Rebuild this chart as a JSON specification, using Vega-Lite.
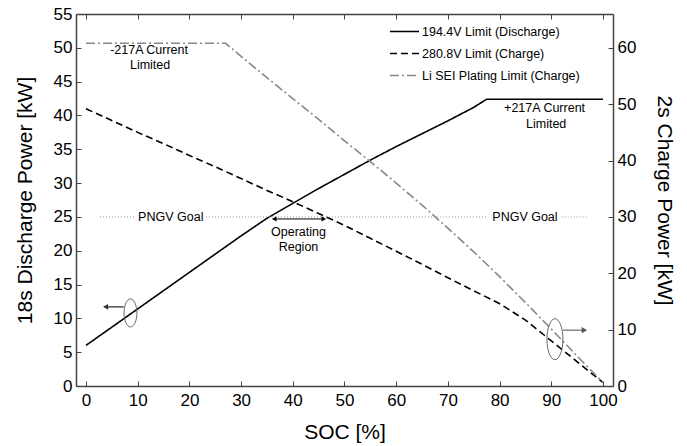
{
  "$schema": "https://vega.github.io/schema/vega-lite/v6.json",
  "width": 537,
  "height": 372,
  "autosize": {"type": "none"},
  "padding": {"left": 76, "top": 14, "right": 74, "bottom": 60},
  "config": {
    "font": "Liberation Sans",
    "view": {"stroke": null},
    "axis": {"grid": false, "domainColor": "#444", "domainWidth": 1.5, "tickColor": "#444", "tickWidth": 1, "labelColor": "#000", "titleColor": "#000", "labelFont": "Liberation Sans", "titleFont": "Liberation Sans", "titleFontWeight": "normal", "labelOverlap": false},
    "text": {"font": "Liberation Sans", "fontSize": 12.5, "baseline": "middle", "align": "center", "color": "#000"}
  },
  "datasets": {
    "discharge": [
      {"soc": 0, "power": 6.0, "series": "194.4V Limit (Discharge)"},
      {"soc": 5, "power": 8.7, "series": "194.4V Limit (Discharge)"},
      {"soc": 10, "power": 11.4, "series": "194.4V Limit (Discharge)"},
      {"soc": 15, "power": 14.1, "series": "194.4V Limit (Discharge)"},
      {"soc": 20, "power": 16.8, "series": "194.4V Limit (Discharge)"},
      {"soc": 25, "power": 19.5, "series": "194.4V Limit (Discharge)"},
      {"soc": 30, "power": 22.2, "series": "194.4V Limit (Discharge)"},
      {"soc": 35, "power": 24.8, "series": "194.4V Limit (Discharge)"},
      {"soc": 40, "power": 27.0, "series": "194.4V Limit (Discharge)"},
      {"soc": 45, "power": 29.2, "series": "194.4V Limit (Discharge)"},
      {"soc": 50, "power": 31.3, "series": "194.4V Limit (Discharge)"},
      {"soc": 55, "power": 33.4, "series": "194.4V Limit (Discharge)"},
      {"soc": 60, "power": 35.4, "series": "194.4V Limit (Discharge)"},
      {"soc": 65, "power": 37.3, "series": "194.4V Limit (Discharge)"},
      {"soc": 70, "power": 39.2, "series": "194.4V Limit (Discharge)"},
      {"soc": 75, "power": 41.2, "series": "194.4V Limit (Discharge)"},
      {"soc": 77.5, "power": 42.4, "series": "194.4V Limit (Discharge)"},
      {"soc": 100, "power": 42.4, "series": "194.4V Limit (Discharge)"}
    ],
    "charge": [
      {"soc": 0, "power": 49.2, "series": "280.8V Limit (Charge)"},
      {"soc": 5, "power": 47.1, "series": "280.8V Limit (Charge)"},
      {"soc": 10, "power": 45.0, "series": "280.8V Limit (Charge)"},
      {"soc": 15, "power": 43.0, "series": "280.8V Limit (Charge)"},
      {"soc": 20, "power": 40.9, "series": "280.8V Limit (Charge)"},
      {"soc": 25, "power": 38.9, "series": "280.8V Limit (Charge)"},
      {"soc": 30, "power": 36.8, "series": "280.8V Limit (Charge)"},
      {"soc": 35, "power": 34.7, "series": "280.8V Limit (Charge)"},
      {"soc": 40, "power": 32.7, "series": "280.8V Limit (Charge)"},
      {"soc": 45, "power": 30.6, "series": "280.8V Limit (Charge)"},
      {"soc": 50, "power": 28.5, "series": "280.8V Limit (Charge)"},
      {"soc": 55, "power": 26.2, "series": "280.8V Limit (Charge)"},
      {"soc": 60, "power": 23.9, "series": "280.8V Limit (Charge)"},
      {"soc": 65, "power": 21.6, "series": "280.8V Limit (Charge)"},
      {"soc": 70, "power": 19.2, "series": "280.8V Limit (Charge)"},
      {"soc": 75, "power": 16.9, "series": "280.8V Limit (Charge)"},
      {"soc": 80, "power": 14.6, "series": "280.8V Limit (Charge)"},
      {"soc": 85, "power": 11.7, "series": "280.8V Limit (Charge)"},
      {"soc": 90, "power": 8.0, "series": "280.8V Limit (Charge)"},
      {"soc": 95, "power": 4.3, "series": "280.8V Limit (Charge)"},
      {"soc": 100, "power": 0.6, "series": "280.8V Limit (Charge)"},
      {"soc": 0, "power": 60.8, "series": "Li SEI Plating Limit (Charge)"},
      {"soc": 27, "power": 60.8, "series": "Li SEI Plating Limit (Charge)"},
      {"soc": 30, "power": 58.5, "series": "Li SEI Plating Limit (Charge)"},
      {"soc": 35, "power": 54.7, "series": "Li SEI Plating Limit (Charge)"},
      {"soc": 40, "power": 51.0, "series": "Li SEI Plating Limit (Charge)"},
      {"soc": 45, "power": 47.3, "series": "Li SEI Plating Limit (Charge)"},
      {"soc": 50, "power": 43.5, "series": "Li SEI Plating Limit (Charge)"},
      {"soc": 55, "power": 39.8, "series": "Li SEI Plating Limit (Charge)"},
      {"soc": 60, "power": 36.0, "series": "Li SEI Plating Limit (Charge)"},
      {"soc": 65, "power": 32.1, "series": "Li SEI Plating Limit (Charge)"},
      {"soc": 70, "power": 28.0, "series": "Li SEI Plating Limit (Charge)"},
      {"soc": 75, "power": 23.8, "series": "Li SEI Plating Limit (Charge)"},
      {"soc": 80, "power": 19.4, "series": "Li SEI Plating Limit (Charge)"},
      {"soc": 85, "power": 14.8, "series": "Li SEI Plating Limit (Charge)"},
      {"soc": 90, "power": 10.1, "series": "Li SEI Plating Limit (Charge)"},
      {"soc": 95, "power": 5.3, "series": "Li SEI Plating Limit (Charge)"},
      {"soc": 100, "power": 0.6, "series": "Li SEI Plating Limit (Charge)"}
    ],
    "goal": [
      {"soc": 2.7, "soc2": 9.7, "power": 25},
      {"soc": 23.2, "soc2": 77.8, "power": 25},
      {"soc": 92, "soc2": 96.8, "power": 25}
    ],
    "labels": [
      {"soc": 16.4, "power": 25, "label": "PNGV Goal"},
      {"soc": 84.9, "power": 25, "label": "PNGV Goal"},
      {"soc": 41.1, "power": 22.8, "label": "Operating"},
      {"soc": 41.1, "power": 20.6, "label": "Region"},
      {"soc": 12.2, "power": 49.7, "label": "-217A Current"},
      {"soc": 12.4, "power": 47.5, "label": "Limited"},
      {"soc": 88.7, "power": 41.05, "label": "+217A Current"},
      {"soc": 89.0, "power": 38.8, "label": "Limited"}
    ],
    "oprule": [{"soc": 36.3, "soc2": 46.1, "power": 24.7}],
    "opheads": [
      {"soc": 36.4, "power": 24.7, "dir": "left"},
      {"soc": 46.0, "power": 24.7, "dir": "right"}
    ],
    "leftEllipse": [{"soc": 8.6, "power": 10.8}],
    "leftArrow": [{"soc": 3.6, "soc2": 7.3, "power": 11.7}],
    "leftHead": [{"soc": 3.8, "power": 11.7}],
    "rightEllipse": [{"soc": 90.7, "power": 8.3}],
    "rightArrow": [{"soc": 92.2, "soc2": 96.3, "power": 9.9}],
    "rightHead": [{"soc": 96.4, "power": 9.9}]
  },
  "layer": [
    {
      "layer": [
        {
          "data": {"name": "discharge"},
          "mark": {"type": "line"},
          "encoding": {
            "x": {"field": "soc", "type": "quantitative", "scale": {"domain": [-1.93, 101.93], "nice": false, "zero": false},
              "axis": {"orient": "bottom", "values": [0, 10, 20, 30, 40, 50, 60, 70, 80, 90, 100], "tickSize": -5, "labelPadding": 11, "labelFontSize": 17, "title": "SOC [%]", "titleFontSize": 21, "titlePadding": 13}},
            "y": {"field": "power", "type": "quantitative", "scale": {"domain": [0, 55], "nice": false, "zero": false},
              "axis": {"orient": "left", "tickCount": 11, "tickSize": -5, "labelPadding": 9, "labelFontSize": 17, "title": "18s Discharge Power [kW]", "titleFontSize": 21, "titlePadding": 18}},
            "color": {"field": "series", "type": "nominal", "title": null,
              "scale": {"domain": ["194.4V Limit (Discharge)", "280.8V Limit (Charge)", "Li SEI Plating Limit (Charge)"], "range": ["#000000", "#000000", "#888888"]},
              "legend": {"orient": "none", "legendX": 313, "legendY": 2, "symbolType": "stroke", "symbolSize": 841, "symbolStrokeWidth": 1.4, "labelFontSize": 12.5, "labelFont": "Liberation Sans", "labelColor": "#000", "rowPadding": -11, "labelOffset": 2, "padding": 0}},
            "strokeDash": {"field": "series", "type": "nominal", "title": null,
              "scale": {"domain": ["194.4V Limit (Discharge)", "280.8V Limit (Charge)", "Li SEI Plating Limit (Charge)"], "range": [[1, 0], [7, 4], [9, 3, 2, 3]]}},
            "strokeWidth": {"field": "series", "type": "nominal", "legend": null,
              "scale": {"domain": ["194.4V Limit (Discharge)", "280.8V Limit (Charge)", "Li SEI Plating Limit (Charge)"], "range": [1.6, 1.6, 1]}}
          }
        },
        {
          "data": {"name": "goal"},
          "mark": {"type": "rule", "color": "#999", "strokeDash": [1, 2], "strokeWidth": 1},
          "encoding": {
            "x": {"field": "soc", "type": "quantitative", "scale": {"domain": [-1.93, 101.93], "nice": false, "zero": false}},
            "x2": {"field": "soc2"},
            "y": {"field": "power", "type": "quantitative", "scale": {"domain": [0, 55], "nice": false, "zero": false}}
          }
        },
        {
          "data": {"name": "labels"},
          "mark": {"type": "text"},
          "encoding": {
            "x": {"field": "soc", "type": "quantitative", "scale": {"domain": [-1.93, 101.93], "nice": false, "zero": false}},
            "y": {"field": "power", "type": "quantitative", "scale": {"domain": [0, 55], "nice": false, "zero": false}},
            "text": {"field": "label"}
          }
        },
        {
          "data": {"name": "oprule"},
          "mark": {"type": "rule", "color": "#000", "strokeWidth": 1},
          "encoding": {
            "x": {"field": "soc", "type": "quantitative", "scale": {"domain": [-1.93, 101.93], "nice": false, "zero": false}},
            "x2": {"field": "soc2"},
            "y": {"field": "power", "type": "quantitative", "scale": {"domain": [0, 55], "nice": false, "zero": false}}
          }
        },
        {
          "data": {"name": "opheads"},
          "mark": {"type": "point", "filled": true, "color": "#000", "size": 28, "opacity": 1},
          "encoding": {
            "x": {"field": "soc", "type": "quantitative", "scale": {"domain": [-1.93, 101.93], "nice": false, "zero": false}},
            "y": {"field": "power", "type": "quantitative", "scale": {"domain": [0, 55], "nice": false, "zero": false}},
            "shape": {"field": "dir", "type": "nominal", "legend": null, "scale": {"domain": ["left", "right"], "range": ["triangle-left", "triangle-right"]}}
          }
        },
        {
          "data": {"name": "leftEllipse"},
          "mark": {"type": "point", "filled": false, "stroke": "#666", "strokeWidth": 1, "opacity": 1, "size": 784,
            "shape": "M0,-1C0.254,-1,0.46,-0.552,0.46,0C0.46,0.552,0.254,1,0,1C-0.254,1,-0.46,0.552,-0.46,0C-0.46,-0.552,-0.254,-1,0,-1Z"},
          "encoding": {
            "x": {"field": "soc", "type": "quantitative", "scale": {"domain": [-1.93, 101.93], "nice": false, "zero": false}},
            "y": {"field": "power", "type": "quantitative", "scale": {"domain": [0, 55], "nice": false, "zero": false}}
          }
        },
        {
          "data": {"name": "leftArrow"},
          "mark": {"type": "rule", "color": "#333", "strokeWidth": 1.3},
          "encoding": {
            "x": {"field": "soc", "type": "quantitative", "scale": {"domain": [-1.93, 101.93], "nice": false, "zero": false}},
            "x2": {"field": "soc2"},
            "y": {"field": "power", "type": "quantitative", "scale": {"domain": [0, 55], "nice": false, "zero": false}}
          }
        },
        {
          "data": {"name": "leftHead"},
          "mark": {"type": "point", "filled": true, "color": "#333", "size": 34, "opacity": 1, "shape": "triangle-left"},
          "encoding": {
            "x": {"field": "soc", "type": "quantitative", "scale": {"domain": [-1.93, 101.93], "nice": false, "zero": false}},
            "y": {"field": "power", "type": "quantitative", "scale": {"domain": [0, 55], "nice": false, "zero": false}}
          }
        }
      ]
    },
    {
      "layer": [
        {
          "data": {"name": "charge"},
          "mark": {"type": "line"},
          "encoding": {
            "x": {"field": "soc", "type": "quantitative", "scale": {"domain": [-1.93, 101.93], "nice": false, "zero": false},
              "axis": {"orient": "top", "values": [0, 10, 20, 30, 40, 50, 60, 70, 80, 90, 100], "tickSize": -5, "labels": false, "title": null}},
            "y": {"field": "power", "type": "quantitative", "scale": {"domain": [0, 66], "nice": false, "zero": false},
              "axis": {"orient": "right", "tickCount": 6, "tickSize": -5, "labelPadding": 9, "labelFontSize": 17, "title": "2s Charge Power [kW]", "titleFontSize": 21, "titlePadding": 18}},
            "color": {"field": "series", "type": "nominal", "title": null},
            "strokeDash": {"field": "series", "type": "nominal", "title": null},
            "strokeWidth": {"field": "series", "type": "nominal", "legend": null}
          }
        },
        {
          "data": {"name": "rightEllipse"},
          "mark": {"type": "point", "filled": false, "stroke": "#666", "strokeWidth": 1, "opacity": 1, "size": 1681,
            "shape": "M0,-1C0.215,-1,0.39,-0.552,0.39,0C0.39,0.552,0.215,1,0,1C-0.215,1,-0.39,0.552,-0.39,0C-0.39,-0.552,-0.215,-1,0,-1Z"},
          "encoding": {
            "x": {"field": "soc", "type": "quantitative", "scale": {"domain": [-1.93, 101.93], "nice": false, "zero": false}},
            "y": {"field": "power", "type": "quantitative", "scale": {"domain": [0, 66], "nice": false, "zero": false}}
          }
        },
        {
          "data": {"name": "rightArrow"},
          "mark": {"type": "rule", "color": "#888", "strokeWidth": 1.5},
          "encoding": {
            "x": {"field": "soc", "type": "quantitative", "scale": {"domain": [-1.93, 101.93], "nice": false, "zero": false}},
            "x2": {"field": "soc2"},
            "y": {"field": "power", "type": "quantitative", "scale": {"domain": [0, 66], "nice": false, "zero": false}}
          }
        },
        {
          "data": {"name": "rightHead"},
          "mark": {"type": "point", "filled": true, "color": "#555", "size": 40, "opacity": 1, "shape": "triangle-right"},
          "encoding": {
            "x": {"field": "soc", "type": "quantitative", "scale": {"domain": [-1.93, 101.93], "nice": false, "zero": false}},
            "y": {"field": "power", "type": "quantitative", "scale": {"domain": [0, 66], "nice": false, "zero": false}}
          }
        }
      ]
    }
  ],
  "resolve": {"scale": {"y": "independent"}, "axis": {"x": "independent"}}
}
